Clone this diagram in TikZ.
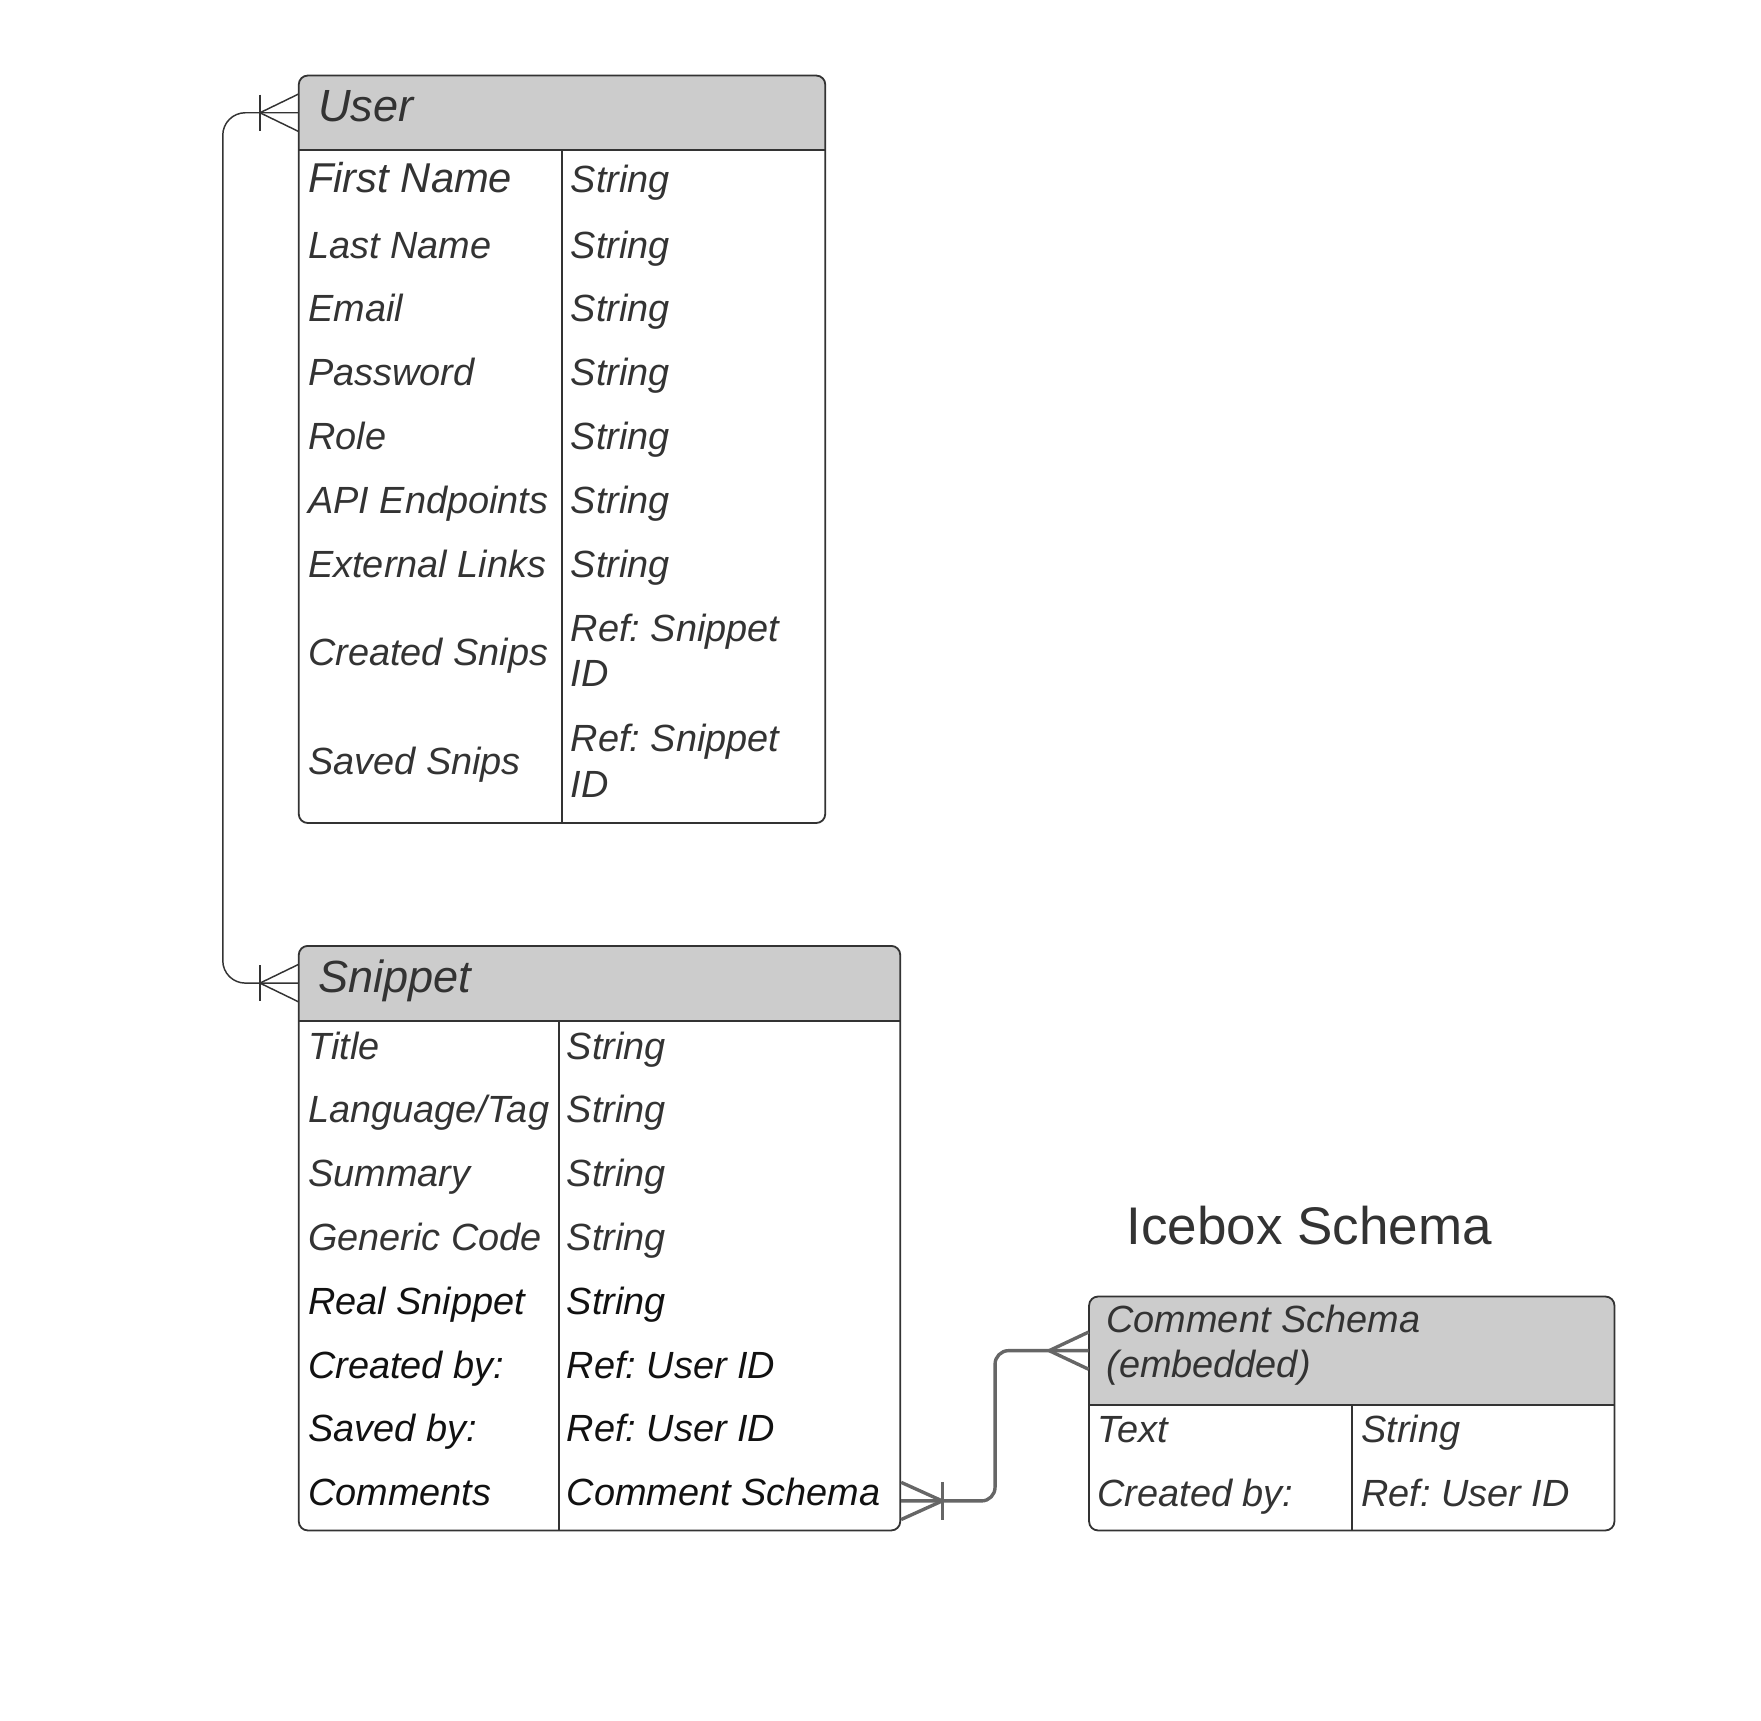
\documentclass[tikz,border=0pt]{standalone}
\usepackage{fontspec}
\setmainfont{Liberation Sans}
\usetikzlibrary{calc,fit}
\frenchspacing
\definecolor{txtgray}{HTML}{333333}
\definecolor{txtblack}{HTML}{111111}
\definecolor{hdrfill}{HTML}{CCCCCC}
\definecolor{linegray}{HTML}{333333}
\definecolor{conngray}{HTML}{666666}
\tikzset{
  tbl/.style={draw=linegray, line width=0.8pt, rounded corners=4pt, inner sep=0pt},
  hdrbox/.style={inner sep=0pt},
  sepline/.style={draw=linegray, line width=0.8pt},
  fld/.style={anchor=base west, inner sep=0pt, text=txtgray, font=\fontsize{16.8}{20}\selectfont\itshape\frenchspacing},
  fldb/.style={fld, text=txtblack},
  fldbig/.style={fld, font=\fontsize{18.5}{22}\selectfont\itshape},
  hdrtxt/.style={anchor=base west, inner sep=0pt, text=txtgray, font=\fontsize{20}{24}\selectfont\itshape},
  titletxt/.style={anchor=base west, inner sep=0pt, text=txtgray, font=\fontsize{23.5}{28}\selectfont},
  connA/.style={draw=linegray, line width=0.65pt},
  connB/.style={draw=conngray, line width=1.5pt},
}
\begin{document}
\begin{tikzpicture}[x=0.5pt,y=-0.5pt]
\useasboundingbox (0,0) rectangle (1562,1526.5);

% ---------- User table ----------
\fill[hdrfill, rounded corners=4pt] (265,67) rectangle (732,133);
\fill[hdrfill] (265,110) rectangle (732,133);
\node[hdrbox, fit={(265,67) (732,133)}] (userh) {};
\node[tbl, fit={(265,67) (732,730)}] (user) {};
\draw[sepline] (userh.south west) -- (userh.south east);
\draw[sepline] (498.5,133) -- (498.5,730);
\node[hdrtxt] (userT) at (282,108) {User};
\node[fldbig] (u1k) at (273,171) {First Name};
\node[fld] (u1v) at (506,171) {String};
\node[fld] (u2k) at (273,229) {Last Name};
\node[fld] (u2v) at (506,229) {String};
\node[fld] (u3k) at (273,285.5) {Email};
\node[fld] (u3v) at (506,285.5) {String};
\node[fld] (u4k) at (273,342) {Password};
\node[fld] (u4v) at (506,342) {String};
\node[fld] (u5k) at (273,399) {Role};
\node[fld] (u5v) at (506,399) {String};
\node[fld] (u6k) at (273,455.5) {API Endpoints};
\node[fld] (u6v) at (506,455.5) {String};
\node[fld] (u7k) at (273,512) {External Links};
\node[fld] (u7v) at (506,512) {String};
\node[fld] (u8k) at (273,590) {Created Snips};
\node[fld] (u8v) at (506,569) {Ref: Snippet};
\node[fld] (u8w) at (506,609) {ID};
\node[fld] (u9k) at (273,687) {Saved Snips};
\node[fld] (u9v) at (506,667) {Ref: Snippet};
\node[fld] (u9w) at (506,707) {ID};

% ---------- Snippet table ----------
\fill[hdrfill, rounded corners=4pt] (265,839) rectangle (798.5,905);
\fill[hdrfill] (265,880) rectangle (798.5,905);
\node[hdrbox, fit={(265,839) (798.5,905)}] (snipH) {};
\node[tbl, fit={(265,839) (798.5,1357.5)}] (snip) {};
\draw[sepline] (snipH.south west) -- (snipH.south east);
\draw[sepline] (496,905) -- (496,1357.5);
\node[hdrtxt] (snipT) at (282,880) {Snippet};
\node[fld] (s1k) at (273,940) {Title};
\node[fld] (s1v) at (502.5,940) {String};
\node[fld] (s2k) at (273,996) {Language/Tag};
\node[fld] (s2v) at (502.5,996) {String};
\node[fld] (s3k) at (273,1052.6) {Summary};
\node[fld] (s3v) at (502.5,1052.6) {String};
\node[fld] (s4k) at (273,1109) {Generic Code};
\node[fld] (s4v) at (502.5,1109) {String};
\node[fldb] (s5k) at (273,1166) {Real Snippet};
\node[fldb] (s5v) at (502.5,1166) {String};
\node[fldb] (s6k) at (273,1222.7) {Created by:};
\node[fldb] (s6v) at (502.5,1222.7) {Ref: User ID};
\node[fldb] (s7k) at (273,1279) {Saved by:};
\node[fldb] (s7v) at (502.5,1279) {Ref: User ID};
\node[fldb] (s8k) at (273,1335) {Comments};
\node[fldb] (s8v) at (502.5,1335) {Comment Schema};

% ---------- Icebox / Comment Schema ----------
\node[titletxt] (icebox) at (999,1104) {Icebox Schema};
\fill[hdrfill, rounded corners=4pt] (966,1150) rectangle (1432,1246);
\fill[hdrfill] (966,1200) rectangle (1432,1246);
\node[hdrbox, fit={(966,1150) (1432,1246)}] (cmtH) {};
\node[tbl, fit={(966,1150) (1432,1357.5)}] (cmt) {};
\draw[sepline] (cmtH.south west) -- (cmtH.south east);
\draw[sepline] (1199,1246) -- (1199,1357.5);
\node[fld] (cmtT) at (981,1182) {Comment Schema};
\node[fld] (cmtU) at (981,1221.6) {(embedded)};
\node[fld] (c1k) at (973,1279.6) {Text};
\node[fld] (c1v) at (1207,1279.6) {String};
\node[fld] (c2k) at (973,1336) {Created by:};
\node[fld] (c2v) at (1207,1336) {Ref: User ID};

% ---------- Connector User <-> Snippet ----------
\draw[connA, rounded corners=10pt] (userh.west) -- ($(userh.west)+(-67,0)$) |- (snipH.west);
% crow's feet (one or many) at User
\draw[connA] ($(userh.west)+(-34,0)$) -- ($(userh.west)+(0,-16.5)$);
\draw[connA] ($(userh.west)+(-34,0)$) -- ($(userh.west)+(0,16.5)$);
\draw[connA] ($(userh.west)+(-34,-16)$) -- ($(userh.west)+(-34,16)$);
% crow's feet at Snippet
\draw[connA] ($(snipH.west)+(-34,0)$) -- ($(snipH.west)+(0,-16.5)$);
\draw[connA] ($(snipH.west)+(-34,0)$) -- ($(snipH.west)+(0,16.5)$);
\draw[connA] ($(snipH.west)+(-34,-16)$) -- ($(snipH.west)+(-34,16)$);

% ---------- Connector Snippet -> Comment Schema ----------
\coordinate (c2s) at ($(snip.south east)+(0,-27)$);
\draw[connB, rounded corners=6pt] (c2s) -| ($(cmtH.west)+(-83,0)$) -- (cmtH.west);
\draw[connB] ($(c2s)+(36.5,0)$) -- ($(c2s)+(0,-16.5)$);
\draw[connB] ($(c2s)+(36.5,0)$) -- ($(c2s)+(0,16.5)$);
\draw[connB] ($(c2s)+(36.5,-17)$) -- ($(c2s)+(36.5,17)$);
\draw[connB] ($(cmtH.west)+(-35,0)$) -- ($(cmtH.west)+(0,-16.5)$);
\draw[connB] ($(cmtH.west)+(-35,0)$) -- ($(cmtH.west)+(0,16.5)$);
\end{tikzpicture}
\end{document}
